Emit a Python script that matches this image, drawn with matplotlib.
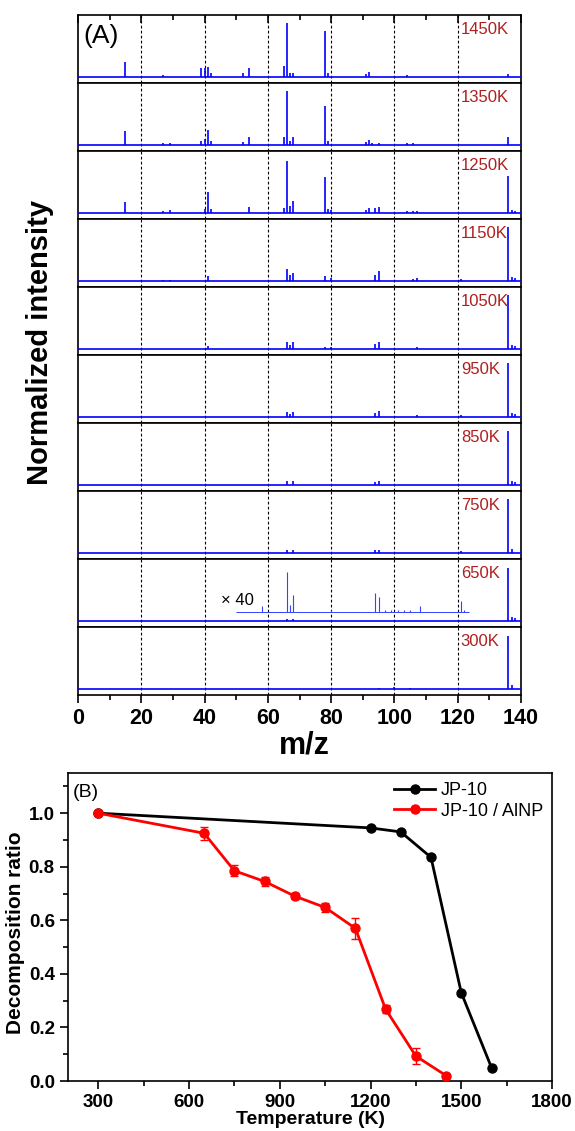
import matplotlib
matplotlib.use("Agg")
import matplotlib.pyplot as plt
from matplotlib.ticker import MultipleLocator

plt.rcParams['font.family'] = ['Liberation Sans', 'DejaVu Sans']

# ---------------- Panel A data (m/z peaks, normalized heights) ----------------
temps_A = ["1450K", "1350K", "1250K", "1150K", "1050K", "950K", "850K", "750K", "650K", "300K"]

mz_1450 = [15, 27, 39, 40, 41, 42, 52, 54, 65, 66, 67, 68, 78, 79, 91, 92, 104, 136]
h_1450 = [0.26, 0.02, 0.15, 0.15, 0.17, 0.06, 0.06, 0.16, 0.20, 1.00, 0.07, 0.07, 0.85, 0.06, 0.04, 0.09, 0.02, 0.05]

mz_1350 = [15, 27, 29, 39, 40, 41, 42, 52, 54, 65, 66, 67, 68, 78, 79, 91, 92, 93, 95, 104, 106, 136]
h_1350 = [0.25, 0.02, 0.02, 0.06, 0.10, 0.27, 0.06, 0.04, 0.14, 0.14, 0.99, 0.06, 0.135, 0.71, 0.07, 0.05, 0.09, 0.03, 0.03, 0.02, 0.02, 0.135]

mz_1250 = [15, 27, 29, 40, 41, 42, 54, 65, 66, 67, 68, 78, 79, 80, 91, 92, 94, 95, 104, 106, 107, 136, 137, 138]
h_1250 = [0.20, 0.02, 0.04, 0.06, 0.38, 0.06, 0.11, 0.08, 0.96, 0.12, 0.21, 0.66, 0.06, 0.05, 0.055, 0.075, 0.075, 0.105, 0.02, 0.02, 0.02, 0.67, 0.05, 0.03]

mz_1150 = [27, 29, 41, 66, 67, 68, 78, 80, 94, 95, 106, 107, 121, 136, 137, 138]
h_1150 = [0.015, 0.015, 0.09, 0.21, 0.10, 0.14, 0.075, 0.055, 0.10, 0.185, 0.03, 0.04, 0.02, 1.00, 0.07, 0.05]

mz_1050 = [41, 66, 67, 68, 78, 80, 94, 95, 107, 136, 137, 138]
h_1050 = [0.05, 0.13, 0.06, 0.12, 0.03, 0.03, 0.08, 0.13, 0.03, 1.00, 0.07, 0.04]

mz_950 = [66, 67, 68, 94, 95, 107, 121, 136, 137, 138]
h_950 = [0.09, 0.04, 0.08, 0.06, 0.10, 0.03, 0.02, 1.00, 0.07, 0.04]

mz_850 = [66, 68, 94, 95, 136, 137, 138]
h_850 = [0.07, 0.06, 0.05, 0.07, 1.00, 0.06, 0.04]

mz_750 = [66, 68, 94, 95, 121, 136, 137]
h_750 = [0.05, 0.04, 0.04, 0.04, 0.02, 1.00, 0.06]

mz_650 = [66, 68, 136, 137, 138]
h_650 = [0.03, 0.02, 0.98, 0.06, 0.04]

mz_300 = [95, 100, 105, 136, 137]
h_300 = [0.015, 0.02, 0.015, 0.98, 0.06]

# x40 magnified trace of the 650K spectrum
x40_range = [50, 123.5]
x40_offset = 0.15
mz_650_x40 = [58, 66, 67, 68, 80, 94, 95, 97, 99, 101, 103, 105, 108, 121, 122]
h_650_x40 = [0.12, 0.75, 0.13, 0.33, 0.05, 0.36, 0.28, 0.05, 0.04, 0.05, 0.04, 0.04, 0.12, 0.22, 0.05]

spectra = [(mz_1450, h_1450), (mz_1350, h_1350), (mz_1250, h_1250), (mz_1150, h_1150),
           (mz_1050, h_1050), (mz_950, h_950), (mz_850, h_850), (mz_750, h_750),
           (mz_650, h_650), (mz_300, h_300)]

# ---------------- Panel B data ----------------
T_jp10 = [300, 1200, 1300, 1400, 1500, 1600]
r_jp10 = [1.0, 0.945, 0.93, 0.835, 0.33, 0.05]

T_alnp = [300, 650, 750, 850, 950, 1050, 1150, 1250, 1350, 1450]
r_alnp = [1.0, 0.925, 0.785, 0.745, 0.69, 0.648, 0.57, 0.268, 0.093, 0.02]
e_alnp = [0.0, 0.025, 0.02, 0.018, 0.012, 0.018, 0.04, 0.015, 0.03, 0.008]

# ---------------- Figure ----------------
W, H = 575, 1131
fig = plt.figure(figsize=(W / 100, H / 100), dpi=100)

def fx(px):
    return px / W

def fy(py):
    return 1 - py / H

a_left, a_right, a_top, a_bot = 78, 521, 15, 695
n = len(temps_A)
ph = (a_bot - a_top) / n
blue = '#0000ff'
dred = '#b01e1e'

axesA = []
for i, (lab, (mz, hh)) in enumerate(zip(temps_A, spectra)):
    top_px = a_top + i * ph
    ax = fig.add_axes([fx(a_left), fy(top_px + ph), fx(a_right) - fx(a_left), ph / H])
    ax.set_xlim(0, 140)
    ax.set_ylim(-0.12, 1.14)
    for v in [20, 40, 60, 80, 100, 120]:
        ax.axvline(v, color='black', lw=0.8, ls=(0, (2.5, 2)), zorder=1)
    ax.axhline(0, color=blue, lw=1.2, zorder=3)
    ax.vlines(mz, 0, hh, color=blue, lw=1.2, zorder=3)
    if lab == "650K":
        ax.hlines(x40_offset, x40_range[0], x40_range[1], color='#3344ff', lw=0.7, zorder=3)
        ax.vlines(mz_650_x40, x40_offset, [x40_offset + v for v in h_650_x40],
                  color='#3344ff', lw=0.8, zorder=3)
        ax.text(45.3, x40_offset + 0.09, "× 40", fontsize=12, ha='left', va='bottom')
    ax.text(0.864, 0.89, lab, transform=ax.transAxes, color=dred, fontsize=12,
            ha='left', va='top')
    ax.set_yticks([])
    for s in ax.spines.values():
        s.set_linewidth(1.2)
    ax.xaxis.set_major_locator(MultipleLocator(20))
    ax.xaxis.set_minor_locator(MultipleLocator(10))
    if i == 0:
        ax.tick_params(axis='x', which='both', top=True, bottom=False, labeltop=False,
                       labelbottom=False, direction='in')
        ax.tick_params(axis='x', which='major', length=6, width=1.2)
        ax.tick_params(axis='x', which='minor', length=3.5, width=1.2)
        ax.text(0.012, 0.87, "(A)", transform=ax.transAxes, fontsize=19, ha='left', va='top')
    elif i == n - 1:
        ax.tick_params(axis='x', which='both', direction='out', labelsize=15.5)
        ax.tick_params(axis='x', which='major', length=6, width=1.2, pad=3)
        ax.tick_params(axis='x', which='minor', length=3.5, width=1.2)
    else:
        ax.tick_params(axis='x', which='both', bottom=False, labelbottom=False)
    axesA.append(ax)

for t in axesA[-1].get_xticklabels():
    t.set_fontweight('bold')

fig.text(fx(40), fy(342), "Normalized intensity", rotation=90,
         fontsize=21, fontweight='bold', ha='center', va='center')
fig.text(fx((a_left + a_right) / 2 + 5), fy(746), "m/z", fontsize=22, fontweight='bold',
         ha='center', va='center')

# ---------------- Panel B ----------------
b_left, b_right, b_top, b_bot = 68, 552, 773, 1081
axB = fig.add_axes([fx(b_left), fy(b_bot), fx(b_right) - fx(b_left), (b_bot - b_top) / H])
axB.plot(T_jp10, r_jp10, color='black', lw=2, marker='o', ms=6.5, label='JP-10', zorder=3)
axB.errorbar(T_alnp, r_alnp, yerr=e_alnp, fmt='none', ecolor='red', capsize=3,
             elinewidth=1, capthick=1, zorder=4)
axB.plot(T_alnp, r_alnp, color='red', lw=2, marker='o', ms=6.5, label='JP-10 / AlNP', zorder=5)
axB.set_xlim(200, 1800)
axB.set_ylim(0, 1.15)
axB.xaxis.set_minor_locator(MultipleLocator(150))
axB.yaxis.set_minor_locator(MultipleLocator(0.1))
axB.set_xticks([300, 600, 900, 1200, 1500, 1800])
axB.set_yticks([0.0, 0.2, 0.4, 0.6, 0.8, 1.0])
axB.set_yticklabels(["0.0", "0.2", "0.4", "0.6", "0.8", "1.0"])
axB.tick_params(axis='both', which='both', direction='out', labelsize=13.5, width=1.2)
axB.tick_params(axis='both', which='major', length=6)
axB.tick_params(axis='both', which='minor', length=3.5)
for t in axB.get_xticklabels() + axB.get_yticklabels():
    t.set_fontweight('bold')
for s in axB.spines.values():
    s.set_linewidth(1.2)
axB.set_xlabel("Temperature (K)", fontsize=14, fontweight='bold', labelpad=0)
axB.set_ylabel("Decomposition ratio", fontsize=15, fontweight='bold')
axB.yaxis.set_label_coords(-0.088, 0.48)
axB.text(0.01, 0.965, "(B)", transform=axB.transAxes, fontsize=14, ha='left', va='top')
leg = axB.legend(loc='upper right', frameon=False, fontsize=13, handlelength=2.3,
                 handletextpad=0.3, borderaxespad=0.1, labelspacing=0.2,
                 bbox_to_anchor=(1.0, 1.0))

fig.savefig("out.png", dpi=100)
